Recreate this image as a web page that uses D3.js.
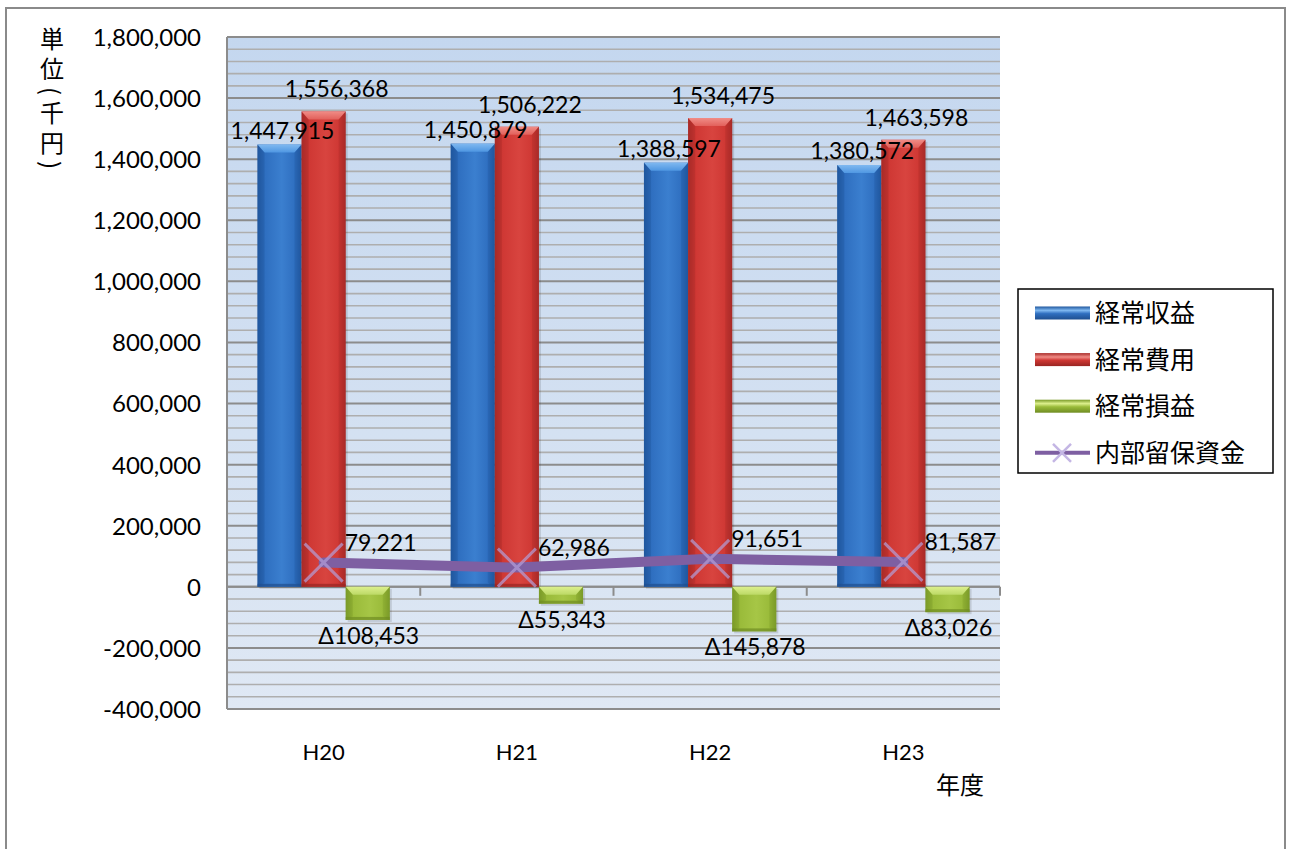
<!DOCTYPE html>
<html>
<head>
<meta charset="utf-8">
<script src="https://cdn.jsdelivr.net/npm/d3@7"></script>
<style>
  html, body { margin: 0; padding: 0; background: #ffffff; }
  svg { display: block; }
  .num { font-family: Lato, "Open Sans", sans-serif; font-size: 23px; fill: #000; }
  .jp { font-family: "Noto Sans CJK JP", sans-serif; fill: #000; }
</style>
</head>
<body>
<svg id="chart" width="1292" height="849"></svg>
<script>
// 年度別の経常収益・経常費用・経常損益（千円）と内部留保資金
const years = ["H20", "H21", "H22", "H23"];
const revenue = [1447915, 1450879, 1388597, 1380572];   // 経常収益
const expense = [1556368, 1506222, 1534475, 1463598];   // 経常費用
const profit = [-108453, -55343, -145878, -83026];      // 経常損益
const reserve = [79221, 62986, 91651, 81587];           // 内部留保資金
const seriesNames = ["経常収益", "経常費用", "経常損益", "内部留保資金"];
const yTicks = [-400000, -200000, 0, 200000, 400000, 600000, 800000, 1000000, 1200000, 1400000, 1600000, 1800000];

const svg = d3.select("#chart");
const plot = { left: 227, right: 1000, top: 37, bottom: 709 };

const y = d3.scaleLinear().domain([-400000, 1800000]).range([plot.bottom, plot.top]);
const x = d3.scaleBand().domain(years).range([plot.left, plot.right]).paddingInner(0).paddingOuter(0);
const xi = d3.scaleBand().domain([0, 1, 2]).range([0, x.bandwidth()]).paddingInner(0).paddingOuter(0.69);

const fmt0 = d3.format(",");
const fmt = v => fmt0(v).replace("\u2212", "-");
const defs = svg.append("defs");

// chart frame
svg.append("rect").attr("x", 6).attr("y", 8).attr("width", 1279).attr("height", 900)
  .attr("fill", "#fff").attr("stroke", "#8a8a8a").attr("stroke-width", 2);

// plot background
const bg = defs.append("linearGradient").attr("id", "bg").attr("x1", 0).attr("y1", 0).attr("x2", 0).attr("y2", 1);
bg.append("stop").attr("offset", "0%").attr("stop-color", "#c4d7ef");
bg.append("stop").attr("offset", "100%").attr("stop-color", "#dfe8f4");
svg.append("rect").attr("x", plot.left).attr("y", plot.top)
  .attr("width", plot.right - plot.left).attr("height", plot.bottom - plot.top)
  .attr("fill", "url(#bg)");

// minor gridlines every 40,000
const minor = d3.range(-400000, 1800001, 40000).filter(v => v % 200000 !== 0);
svg.append("g").selectAll("line").data(minor).join("line")
  .attr("x1", plot.left).attr("x2", plot.right)
  .attr("y1", d => y(d)).attr("y2", d => y(d))
  .attr("stroke", "#aeaeae").attr("stroke-width", 1.6);

// major gridlines
svg.append("g").selectAll("line").data(yTicks).join("line")
  .attr("x1", plot.left).attr("x2", plot.right)
  .attr("y1", d => y(d)).attr("y2", d => y(d))
  .attr("stroke", "#8c8c8c").attr("stroke-width", 2);

// value axis line
svg.append("line").attr("x1", plot.left).attr("x2", plot.left)
  .attr("y1", plot.top).attr("y2", plot.bottom).attr("stroke", "#8c8c8c").attr("stroke-width", 2);

// value axis labels
const yAxis = d3.axisLeft(y).tickValues(yTicks).tickFormat(fmt).tickSize(0).tickPadding(0);
const gy = svg.append("g").attr("transform", `translate(201,0)`).call(yAxis);
gy.select(".domain").remove();
gy.selectAll("text").attr("class", "num").attr("font-size", null).attr("font-family", null)
  .style("font-size", "24px").attr("dy", "0.35em");

// category axis at zero
svg.append("line").attr("x1", plot.left).attr("x2", plot.right)
  .attr("y1", y(0)).attr("y2", y(0)).attr("stroke", "#8c8c8c").attr("stroke-width", 2);
const bounds = years.map(d => x(d)).concat([plot.right]);
svg.append("g").selectAll("line").data(bounds).join("line")
  .attr("x1", d => d).attr("x2", d => d)
  .attr("y1", y(0)).attr("y2", y(0) + 9)
  .attr("stroke", "#8c8c8c").attr("stroke-width", 2);

// category labels
svg.append("g").selectAll("text").data(years).join("text")
  .attr("class", "num").style("font-size", "22px")
  .attr("x", d => x(d) + x.bandwidth() / 2).attr("y", 760)
  .attr("text-anchor", "middle").text(d => d);

// bar palettes
const pal = [
  { edge: "#20579e", body: "#2f6fc0", light: "#3b7fcf", top: "#4f97e2", hi: "#7fb8f0", bottom: "#1f4f8f" },
  { edge: "#a82a27", body: "#cf3834", light: "#d8443f", top: "#e2605b", hi: "#f08c86", bottom: "#992522" },
  { edge: "#7a9a28", body: "#9abb3a", light: "#a6c646", top: "#bcd966", hi: "#dcef8c", bottom: "#6f8c22" }
];
pal.forEach((p, i) => {
  const g = defs.append("linearGradient").attr("id", "body" + i).attr("x1", 0).attr("x2", 1).attr("y1", 0).attr("y2", 0);
  g.append("stop").attr("offset", "0%").attr("stop-color", p.edge);
  g.append("stop").attr("offset", "18%").attr("stop-color", p.body);
  g.append("stop").attr("offset", "55%").attr("stop-color", p.light);
  g.append("stop").attr("offset", "85%").attr("stop-color", p.body);
  g.append("stop").attr("offset", "100%").attr("stop-color", p.edge);
  const t = defs.append("linearGradient").attr("id", "top" + i).attr("x1", 0).attr("x2", 0).attr("y1", 0).attr("y2", 1);
  t.append("stop").attr("offset", "0%").attr("stop-color", p.hi);
  t.append("stop").attr("offset", "100%").attr("stop-color", p.top);
  const lg = defs.append("linearGradient").attr("id", "leg" + i).attr("x1", 0).attr("x2", 0).attr("y1", 0).attr("y2", 1);
  lg.append("stop").attr("offset", "0%").attr("stop-color", p.edge);
  lg.append("stop").attr("offset", "30%").attr("stop-color", p.hi);
  lg.append("stop").attr("offset", "55%").attr("stop-color", p.body);
  lg.append("stop").attr("offset", "100%").attr("stop-color", p.bottom);
});

const barSeries = [revenue, expense, profit];
const bars = [];
barSeries.forEach((vals, si) => {
  vals.forEach((v, ci) => {
    const x0 = x(years[ci]) + xi(si);
    const w = xi.bandwidth();
    const yt = y(Math.max(0, v));
    const yb = y(Math.min(0, v));
    bars.push({ si, ci, v, x0, w, yt, yb });
  });
});

const gBars = svg.append("g");
const bevel = 8;
bars.forEach(b => {
  const g = gBars.append("g");
  const p = pal[b.si];
  const h = b.yb - b.yt;
  const bv = Math.min(bevel, h / 2);
  g.append("rect").attr("x", b.x0 + 2).attr("y", b.yt + 2).attr("width", b.w).attr("height", h)
    .attr("fill", "#000").attr("opacity", 0.12);
  g.append("rect").attr("x", b.x0).attr("y", b.yt).attr("width", b.w).attr("height", h)
    .attr("fill", `url(#body${b.si})`);
  // top chamfer
  g.append("path")
    .attr("d", `M${b.x0},${b.yt}L${b.x0 + b.w},${b.yt}L${b.x0 + b.w - 7},${b.yt + bv}L${b.x0 + 7},${b.yt + bv}Z`)
    .attr("fill", `url(#top${b.si})`);
  // side chamfers
  g.append("path")
    .attr("d", `M${b.x0},${b.yt}L${b.x0 + 7},${b.yt + bv}L${b.x0 + 7},${b.yb - bv / 2}L${b.x0},${b.yb}Z`)
    .attr("fill", p.edge).attr("opacity", 0.35);
  g.append("path")
    .attr("d", `M${b.x0 + b.w},${b.yt}L${b.x0 + b.w - 7},${b.yt + bv}L${b.x0 + b.w - 7},${b.yb - bv / 2}L${b.x0 + b.w},${b.yb}Z`)
    .attr("fill", p.edge).attr("opacity", 0.35);
  // bottom edge
  g.append("rect").attr("x", b.x0).attr("y", b.yb - 3).attr("width", b.w).attr("height", 3)
    .attr("fill", p.bottom).attr("opacity", 0.7);
});

// 内部留保資金 line
const lx = (d, i) => x(years[i]) + x.bandwidth() / 2;
svg.append("path").datum(reserve)
  .attr("d", d3.line().x(lx).y(d => y(d)))
  .attr("fill", "none").attr("stroke", "#7e5fa2").attr("stroke-width", 10)
  .attr("stroke-linejoin", "round").attr("stroke-linecap", "round");

// X markers
const ms = 19;
const gm = svg.append("g");
reserve.forEach((v, i) => {
  const cx = lx(v, i), cy = y(v);
  gm.append("path")
    .attr("d", `M${cx - ms},${cy - ms}L${cx + ms},${cy + ms}M${cx - ms},${cy + ms}L${cx + ms},${cy - ms}`)
    .attr("stroke", "#b3a0da").attr("stroke-width", 3).attr("opacity", 0.7);
});

// data labels
const gl = svg.append("g");
bars.forEach(b => {
  let tx, ty, txt;
  if (b.si === 0) { tx = b.x0 + b.w / 2 + 3; ty = b.yt - 6; txt = fmt(b.v); }
  else if (b.si === 1) { tx = b.x0 + b.w / 2 + 13; ty = b.yt - 14; txt = fmt(b.v); }
  else { tx = b.x0 + b.w / 2 + 1; ty = b.yb + 24; txt = (b.v < 0 ? "Δ" : "") + fmt(Math.abs(b.v)); }
  gl.append("text").attr("class", "num").attr("x", tx).attr("y", ty)
    .attr("text-anchor", "middle").text(txt);
});
reserve.forEach((v, i) => {
  gl.append("text").attr("class", "num")
    .attr("x", lx(v, i) + 21).attr("y", y(v) - 12).text(fmt(v));
});

// axis titles
svg.append("text").attr("class", "jp").attr("font-size", 24)
  .attr("x", 52).attr("y", 27)
  .style("writing-mode", "vertical-rl").style("letter-spacing", "6px")
  .text("単位(千円)");
svg.append("text").attr("class", "jp").attr("font-size", 24)
  .attr("x", 936).attr("y", 794).text("年度");

// legend
const lgX = 1018, lgY = 289;
svg.append("rect").attr("x", lgX).attr("y", lgY).attr("width", 255).attr("height", 184)
  .attr("fill", "#fff").attr("stroke", "#000").attr("stroke-width", 1.5);
const rowY = i => 313 + i * 46.6;
seriesNames.forEach((name, i) => {
  const cy = rowY(i);
  if (i < 3) {
    svg.append("rect").attr("x", 1035).attr("y", cy - 6.5).attr("width", 55).attr("height", 13)
      .attr("fill", `url(#leg${i})`);
  } else {
    svg.append("line").attr("x1", 1035).attr("x2", 1090).attr("y1", cy).attr("y2", cy)
      .attr("stroke", "#7e5fa2").attr("stroke-width", 4);
    const m = 9;
    svg.append("path")
      .attr("d", `M${1062 - m},${cy - m}L${1062 + m},${cy + m}M${1062 - m},${cy + m}L${1062 + m},${cy - m}`)
      .attr("stroke", "#c4b6e4").attr("stroke-width", 2.5);
  }
  svg.append("text").attr("class", "jp").attr("font-size", 25)
    .attr("x", 1095).attr("y", cy).attr("dy", "0.36em").text(name);
});
</script>
</body>
</html>
